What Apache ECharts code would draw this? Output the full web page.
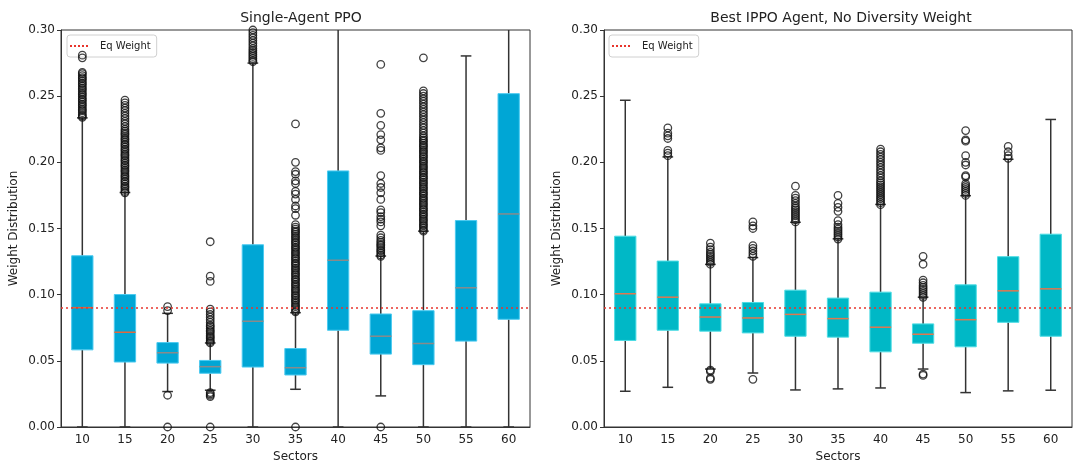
<!DOCTYPE html>
<html>
<head>
<meta charset="utf-8">
<script src="https://cdn.jsdelivr.net/npm/echarts@6/dist/echarts.min.js"></script>
<style>
    html, body {margin: 0; padding: 0; background: #fff;}
    #chart {width: 1073px; height: 468px;}
</style>
</head>
<body>
<div id="chart"></div>
<script>
// categories (number of sectors)
const sectors = ['10', '15', '20', '25', '30', '35', '40', '45', '50', '55', '60'];

const eqWeight = 0.0909;

// box stats per category: [min whisker, Q1, median, Q3, max whisker]
const ppoBoxes = [
    [0.000, 0.0583, 0.0902, 0.1294, 0.2336],
    [0.000, 0.0491, 0.0716, 0.1001, 0.1772],
    [0.0268, 0.0483, 0.0561, 0.0638, 0.0859],
    [0.0278, 0.0406, 0.0456, 0.0503, 0.0635],
    [0.000, 0.0453, 0.0799, 0.1377, 0.2750],
    [0.0285, 0.0393, 0.0448, 0.0593, 0.0864],
    [0.000, 0.0731, 0.1260, 0.1935, 0.3600],
    [0.0235, 0.0551, 0.0686, 0.0854, 0.1292],
    [0.000, 0.0471, 0.0631, 0.0879, 0.1480],
    [0.000, 0.0649, 0.1052, 0.1560, 0.2804],
    [0.000, 0.0814, 0.1610, 0.2519, 0.4000]
];

const ippoBoxes = [
    [0.0270, 0.0654, 0.1007, 0.1442, 0.2469],
    [0.0300, 0.0731, 0.0981, 0.1254, 0.2041],
    [0.0438, 0.0724, 0.0831, 0.0931, 0.1229],
    [0.0408, 0.0711, 0.0824, 0.0941, 0.1280],
    [0.0280, 0.0686, 0.0851, 0.1034, 0.1547],
    [0.0288, 0.0679, 0.0819, 0.0974, 0.1422],
    [0.0295, 0.0568, 0.0754, 0.1019, 0.1682],
    [0.0438, 0.0633, 0.0701, 0.0779, 0.0981],
    [0.0260, 0.0606, 0.0811, 0.1074, 0.1748],
    [0.0273, 0.0791, 0.1029, 0.1287, 0.2023],
    [0.0278, 0.0686, 0.1044, 0.1457, 0.2324]
];

// outliers per category
const ppoOutliers = [
    [0.234, 0.235, 0.236, 0.2375, 0.239, 0.240, 0.2415, 0.243, 0.244, 0.2455, 0.247, 0.248, 0.2495, 0.251, 0.252, 0.2535, 0.255, 0.256, 0.2575, 0.259, 0.260, 0.2615, 0.263, 0.264, 0.2655, 0.267, 0.268, 0.279, 0.281],
    [0.177, 0.178, 0.1795, 0.181, 0.182, 0.1835, 0.185, 0.186, 0.1875, 0.189, 0.190, 0.1915, 0.193, 0.194, 0.1955, 0.197, 0.198, 0.1995, 0.201, 0.202, 0.2035, 0.205, 0.206, 0.2075, 0.209, 0.210, 0.2115, 0.213, 0.214, 0.2155, 0.217, 0.218, 0.2195, 0.221, 0.222, 0.2235, 0.225, 0.227, 0.229, 0.231, 0.233, 0.235, 0.237, 0.239, 0.241, 0.243, 0.245, 0.247],
    [0.000, 0.024, 0.088, 0.091],
    [0.000, 0.023, 0.024, 0.025, 0.026, 0.0635, 0.0645, 0.0655, 0.067, 0.068, 0.069, 0.0705, 0.072, 0.073, 0.0745, 0.076, 0.077, 0.079, 0.081, 0.083, 0.085, 0.087, 0.089, 0.110, 0.114, 0.140],
    [0.276, 0.277, 0.2785, 0.280, 0.2815, 0.283, 0.2845, 0.286, 0.288, 0.290, 0.292, 0.294, 0.296, 0.298, 0.300],
    [0.000, 0.087, 0.088, 0.0895, 0.091, 0.092, 0.0935, 0.095, 0.096, 0.0975, 0.099, 0.100, 0.1015, 0.103, 0.104, 0.1055, 0.107, 0.108, 0.1095, 0.111, 0.112, 0.1135, 0.115, 0.116, 0.1175, 0.119, 0.120, 0.1215, 0.123, 0.124, 0.1255, 0.127, 0.128, 0.1295, 0.131, 0.132, 0.1335, 0.135, 0.136, 0.1375, 0.139, 0.140, 0.1415, 0.143, 0.144, 0.1455, 0.147, 0.148, 0.1495, 0.151, 0.153, 0.160, 0.165, 0.167, 0.172, 0.176, 0.178, 0.184, 0.186, 0.191, 0.193, 0.200, 0.229],
    [],
    [0.000, 0.129, 0.130, 0.1315, 0.133, 0.134, 0.1355, 0.137, 0.138, 0.1395, 0.141, 0.143, 0.145, 0.152, 0.155, 0.157, 0.159, 0.162, 0.164, 0.172, 0.177, 0.181, 0.184, 0.190, 0.209, 0.211, 0.217, 0.221, 0.228, 0.237, 0.274],
    [0.148, 0.149, 0.1505, 0.152, 0.153, 0.1545, 0.156, 0.157, 0.1585, 0.160, 0.161, 0.1625, 0.164, 0.165, 0.1665, 0.168, 0.169, 0.1705, 0.172, 0.173, 0.1745, 0.176, 0.177, 0.1785, 0.180, 0.181, 0.1825, 0.184, 0.185, 0.1865, 0.188, 0.189, 0.1905, 0.192, 0.193, 0.1945, 0.196, 0.197, 0.1985, 0.200, 0.201, 0.2025, 0.204, 0.205, 0.2065, 0.208, 0.209, 0.2105, 0.212, 0.213, 0.2145, 0.216, 0.217, 0.2185, 0.220, 0.222, 0.224, 0.226, 0.228, 0.230, 0.232, 0.234, 0.236, 0.238, 0.240, 0.242, 0.244, 0.246, 0.248, 0.250, 0.252, 0.254, 0.279],
    [],
    []
];

const ippoOutliers = [
    [],
    [0.205, 0.207, 0.209, 0.218, 0.220, 0.222, 0.226],
    [0.036, 0.037, 0.042, 0.043, 0.123, 0.1245, 0.126, 0.1275, 0.129, 0.1305, 0.132, 0.134, 0.136, 0.139],
    [0.036, 0.129, 0.131, 0.133, 0.135, 0.137, 0.150, 0.152, 0.155],
    [0.155, 0.1565, 0.158, 0.1595, 0.161, 0.1625, 0.164, 0.1655, 0.167, 0.169, 0.171, 0.173, 0.175, 0.182],
    [0.142, 0.1435, 0.145, 0.1465, 0.148, 0.1495, 0.151, 0.153, 0.156, 0.163, 0.166, 0.169, 0.175],
    [0.168, 0.1695, 0.171, 0.1725, 0.174, 0.1755, 0.177, 0.1785, 0.180, 0.1815, 0.183, 0.1845, 0.186, 0.188, 0.190, 0.192, 0.194, 0.196, 0.198, 0.200, 0.202, 0.204, 0.206, 0.208, 0.210],
    [0.039, 0.040, 0.098, 0.0995, 0.101, 0.1025, 0.104, 0.1055, 0.107, 0.109, 0.111, 0.123, 0.129],
    [0.175, 0.1765, 0.178, 0.1795, 0.181, 0.1825, 0.184, 0.189, 0.190, 0.198, 0.200, 0.205, 0.216, 0.217, 0.224],
    [0.203, 0.205, 0.208, 0.212],
    []
];

const font = 'DejaVu Sans';
const ppoMedian = ['#e2683c', '#e2683c', '#8a8a8a', '#8a8a8a', '#8a8a8a', '#8a8a8a', '#8a8a8a', '#8a8a8a', '#8a8a8a', '#8a8a8a', '#8a8a8a'];
const ippoMedian = '#e2774e';
const eqColor = '#e8352c';
const dotIcon = 'path://M0,0h2v2h-2z M4,0h2v2h-2z M8,0h2v2h-2z M12,0h2v2h-2z M16,0h2v2h-2z';

function boxRows(boxes) {
    return boxes.map((b, i) => [i].concat(b));
}

function outlierRows(list) {
    const rows = [];
    list.forEach((vals, i) => vals.forEach(v => rows.push([i, v])));
    return rows;
}

function makeRender(fill, edge, medianColor) {
    return function (params, api) {
        const x = api.value(0);
        const pMin = api.coord([x, api.value(1)]);
        const pQ1 = api.coord([x, api.value(2)]);
        const pMed = api.coord([x, api.value(3)]);
        const pQ3 = api.coord([x, api.value(4)]);
        const pMax = api.coord([x, api.value(5)]);
        const band = api.size([1, 0])[0];
        const boxW = band * 0.5;
        const capW = boxW * 0.5;
        const cx = pQ1[0];
        const line = {stroke: '#333', lineWidth: 1.5};
        const mc = Array.isArray(medianColor) ? medianColor[params.dataIndex] : medianColor;
        return {
            type: 'group',
            children: [
                {type: 'line', shape: {x1: cx, y1: pQ1[1], x2: cx, y2: pMin[1]}, style: line},
                {type: 'line', shape: {x1: cx, y1: pQ3[1], x2: cx, y2: pMax[1]}, style: line},
                {type: 'line', shape: {x1: cx - capW / 2, y1: pMin[1], x2: cx + capW / 2, y2: pMin[1]}, style: line},
                {type: 'line', shape: {x1: cx - capW / 2, y1: pMax[1], x2: cx + capW / 2, y2: pMax[1]}, style: line},
                {
                    type: 'rect',
                    shape: {x: cx - boxW / 2, y: pQ3[1], width: boxW, height: pQ1[1] - pQ3[1]},
                    style: {fill: fill, stroke: edge, lineWidth: 1}
                },
                {type: 'line', shape: {x1: cx - boxW / 2, y1: pMed[1], x2: cx + boxW / 2, y2: pMed[1]}, style: {stroke: mc, lineWidth: 1.5}}
            ]
        };
    };
}

function xAxisCfg(gridIndex) {
    return {
        type: 'category',
        gridIndex: gridIndex,
        data: sectors,
        name: 'Sectors',
        nameLocation: 'middle',
        nameGap: 24,
        nameTextStyle: {fontFamily: font, fontSize: 12, color: '#222'},
        axisLine: {lineStyle: {color: '#333', width: 1}},
        axisTick: {alignWithLabel: true, length: 4, lineStyle: {color: '#333'}},
        axisLabel: {fontFamily: font, fontSize: 12, color: '#222', margin: 7},
        splitLine: {show: false}
    };
}

function yAxisCfg(gridIndex) {
    return {
        type: 'value',
        gridIndex: gridIndex,
        min: 0,
        max: 0.3,
        interval: 0.05,
        name: 'Weight Distribution',
        nameLocation: 'middle',
        nameGap: 41,
        nameTextStyle: {fontFamily: font, fontSize: 12, color: '#222'},
        axisLine: {show: true, lineStyle: {color: '#333', width: 1}},
        axisTick: {show: true, length: 4, lineStyle: {color: '#333'}},
        axisLabel: {fontFamily: font, fontSize: 12, color: '#222', margin: 6, formatter: v => v.toFixed(2)},
        splitLine: {show: false}
    };
}

function legendCfg(left) {
    return {
        left: left,
        top: 35,
        orient: 'vertical',
        data: [{name: 'Eq Weight', icon: dotIcon, itemStyle: {color: eqColor}}],
        itemWidth: 20,
        itemHeight: 2,
        padding: [6, 6, 6, 3],
        borderColor: '#d0d0d0',
        borderWidth: 1,
        borderRadius: 3,
        textStyle: {fontFamily: font, fontSize: 10, color: '#222', padding: [0, 0, 0, 6]},
        selectedMode: false
    };
}

function eqSeries(idx) {
    return {
        name: 'Eq Weight',
        type: 'line',
        xAxisIndex: idx,
        yAxisIndex: idx,
        data: [],
        symbol: 'none',
        lineStyle: {color: eqColor, type: [2, 3], width: 1.5},
        itemStyle: {color: eqColor},
        markLine: {
            silent: true,
            symbol: 'none',
            label: {show: false},
            lineStyle: {color: eqColor, type: [2, 3], width: 1.5},
            data: [{yAxis: eqWeight}]
        },
        z: 5
    };
}

function outlierSeries(idx, rows) {
    return {
        type: 'scatter',
        xAxisIndex: idx,
        yAxisIndex: idx,
        data: rows,
        symbol: 'circle',
        symbolSize: 7.5,
        clip: true,
        itemStyle: {color: 'rgba(0,0,0,0)', borderColor: '#111', borderWidth: 1.3},
        z: 4
    };
}

const chart = echarts.init(document.getElementById('chart'), null, {renderer: 'canvas'});

chart.setOption({
    animation: false,
    backgroundColor: '#fff',
    title: [
        {text: 'Single-Agent PPO', left: 296, top: 6, textAlign: 'center', textStyle: {fontFamily: font, fontSize: 14, fontWeight: 'normal', color: '#222'}},
        {text: 'Best IPPO Agent, No Diversity Weight', left: 836, top: 6, textAlign: 'center', textStyle: {fontFamily: font, fontSize: 14, fontWeight: 'normal', color: '#222'}}
    ],
    legend: [legendCfg(67), legendCfg(609)],
    grid: [
        {left: 61, right: 543, top: 30, bottom: 39, show: true, borderColor: '#333', borderWidth: 1},
        {left: 604, right: 1, top: 30, bottom: 39, show: true, borderColor: '#333', borderWidth: 1}
    ],
    xAxis: [xAxisCfg(0), xAxisCfg(1)],
    yAxis: [yAxisCfg(0), yAxisCfg(1)],
    series: [
        {
            type: 'custom',
            xAxisIndex: 0,
            yAxisIndex: 0,
            clip: true,
            data: boxRows(ppoBoxes),
            encode: {x: 0, y: [1, 2, 3, 4, 5]},
            renderItem: makeRender('#00a6d5', '#4ccaf0', ppoMedian),
            z: 2
        },
        {
            type: 'custom',
            xAxisIndex: 1,
            yAxisIndex: 1,
            clip: true,
            data: boxRows(ippoBoxes),
            encode: {x: 0, y: [1, 2, 3, 4, 5]},
            renderItem: makeRender('#00b8c6', '#4cdce4', ippoMedian),
            z: 2
        },
        outlierSeries(0, outlierRows(ppoOutliers)),
        outlierSeries(1, outlierRows(ippoOutliers)),
        eqSeries(0),
        eqSeries(1)
    ]
});
</script>
</body>
</html>
